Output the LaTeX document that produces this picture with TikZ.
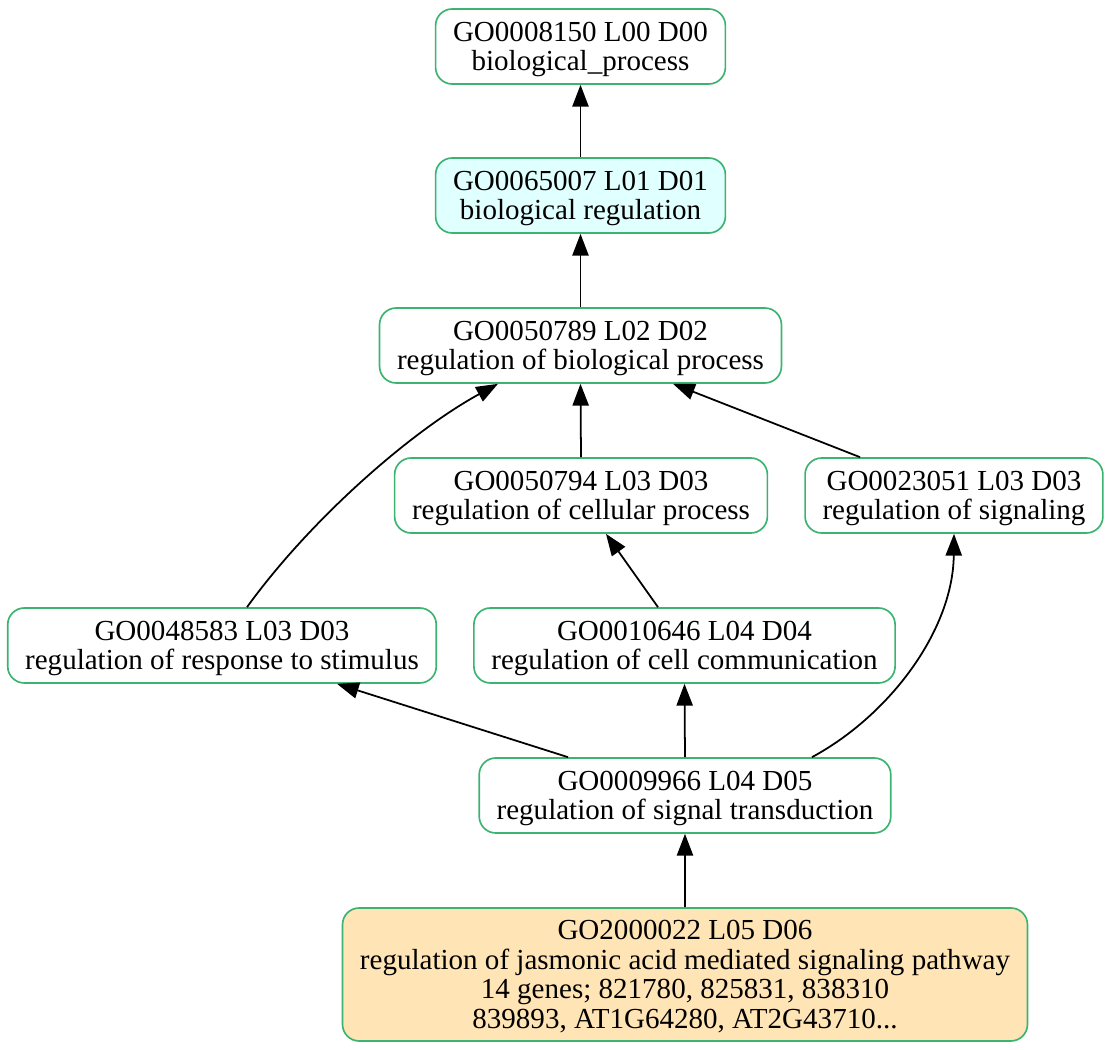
\documentclass[tikz,border=0pt]{standalone}
\usepackage{fontspec}
\setmainfont{Liberation Serif}
\usetikzlibrary{arrows.meta,calc}
\definecolor{termline}{HTML}{3CB371}
\definecolor{termcyan}{HTML}{E0FFFF}
\definecolor{termgold}{HTML}{FFE4B5}

\begin{document}
\begin{tikzpicture}[x=0.482pt, y=-0.482pt,
  term/.style={draw=termline, line width=0.8pt, rounded corners=8pt, align=center, inner xsep=8.4pt, text depth=0pt, minimum height=36.15pt, font=\fontsize{14}{14.2}\selectfont},
  isa/.style={line width=0.85pt, -{Triangle[length=10.5pt,width=7.8pt]}}]
\useasboundingbox (0,0) rectangle (1111,1050);
\node[term] (bp) at (580.5,46.5) {GO0008150 L00 D00\\biological\_process};
\node[term, fill=termcyan] (br) at (580.5,195.5) {GO0065007 L01 D01\\biological regulation};
\node[term] (rbp) at (580.5,345.5) {GO0050789 L02 D02\\regulation of biological process};
\node[term] (rcp) at (581,495.5) {GO0050794 L03 D03\\regulation of cellular process};
\node[term] (rsig) at (954,495.5) {GO0023051 L03 D03\\regulation of signaling};
\node[term] (rrs) at (222,645.5) {GO0048583 L03 D03\\regulation of response to stimulus};
\node[term] (rcc) at (684.5,645.5) {GO0010646 L04 D04\\regulation of cell communication};
\node[term] (rst) at (685,795.5) {GO0009966 L04 D05\\regulation of signal transduction};
\node[term, fill=termgold, minimum height=64.1pt] (rja) at (685,974.5) {GO2000022 L05 D06\\regulation of jasmonic acid mediated signaling pathway\\14 genes; 821780, 825831, 838310\\839893, AT1G64280, AT2G43710...};
\draw[isa] (br.north) -- (bp.south);
\draw[isa] (rbp.north) -- (br.south);
\draw[isa] (rcp.north) -- (rbp.south);
\draw[isa] ($(rsig.north)+(-94,0)$) -- ($(rbp.south)+(92.5,0)$);
\draw[isa] ($(rrs.north)+(25,0)$) .. controls (310,520) and (410,432) .. ($(rbp.south)+(-82.5,0)$);
\draw[isa] ($(rcc.north)+(-26.5,0)$) -- ($(rcp.south)+(25,0)$);
\draw[isa] ($(rst.north)+(-117,0)$) -- ($(rrs.south)+(115,0)$);
\draw[isa] (rst.north) -- (rcc.south);
\draw[isa] ($(rst.north)+(127,0)$) .. controls (890,715) and (953,630) .. (rsig.south);
\draw[isa] (rja.north) -- (rst.south);
\end{tikzpicture}
\end{document}
